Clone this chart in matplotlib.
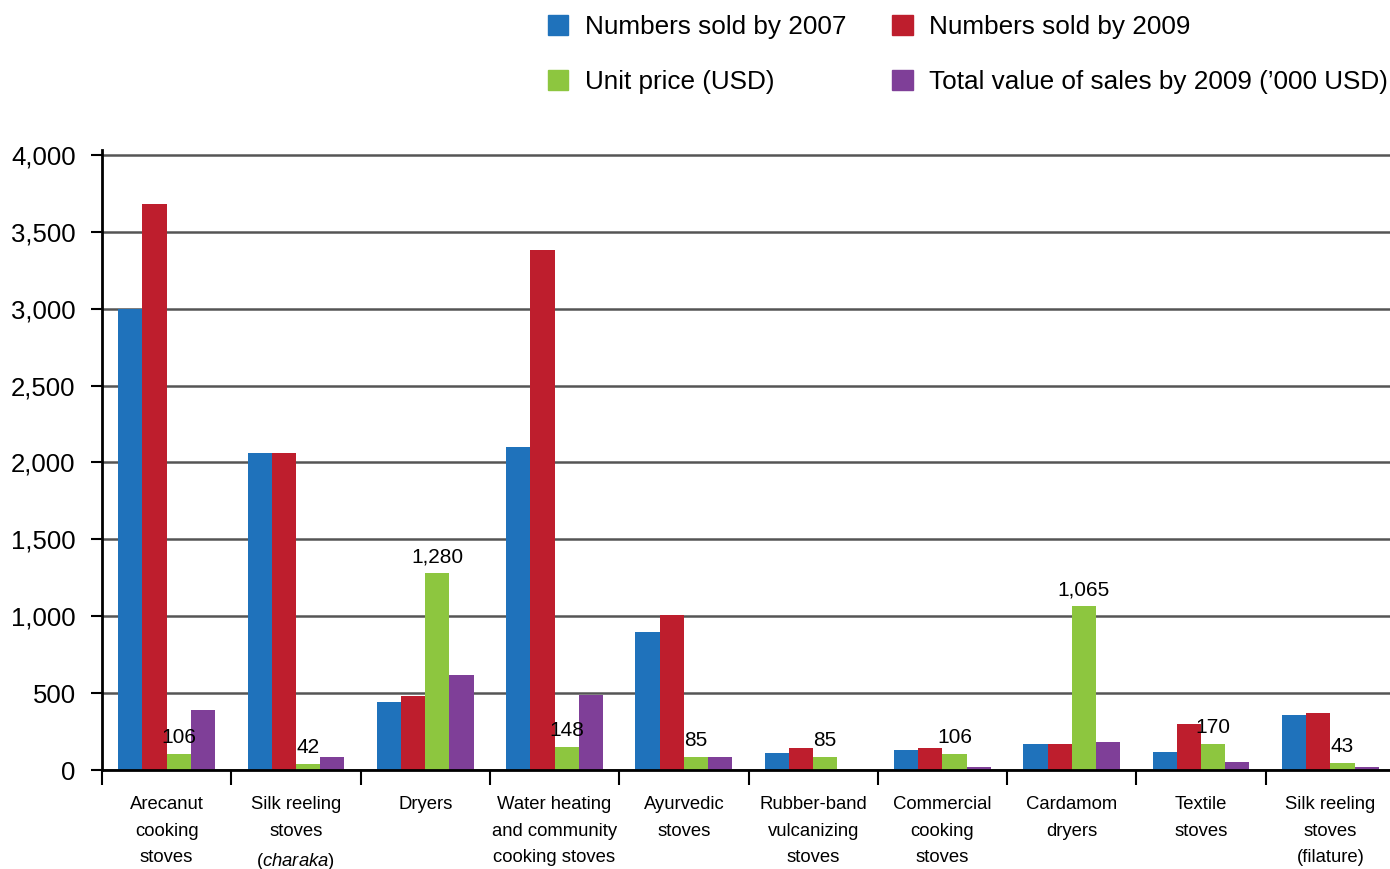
import matplotlib.pyplot as plt
from matplotlib.patches import Patch
import numpy as np

plt.rcParams['font.family'] = ['Liberation Sans', 'DejaVu Sans']
plt.rcParams['mathtext.fontset'] = 'custom'
plt.rcParams['mathtext.rm'] = 'Liberation Sans'
plt.rcParams['mathtext.it'] = 'Liberation Sans:italic'

# Data
categories = [
    'Arecanut\ncooking\nstoves',
    'Silk reeling\nstoves\n($\\mathit{charaka}$)',
    'Dryers',
    'Water heating\nand community\ncooking stoves',
    'Ayurvedic\nstoves',
    'Rubber-band\nvulcanizing\nstoves',
    'Commercial\ncooking\nstoves',
    'Cardamom\ndryers',
    'Textile\nstoves',
    'Silk reeling\nstoves\n(filature)',
]
sold_2007 = [3000, 2060, 440, 2100, 900, 110, 130, 170, 120, 360]
sold_2009 = [3680, 2060, 480, 3380, 1010, 140, 140, 170, 300, 370]
unit_price = [106, 42, 1280, 148, 85, 85, 106, 1065, 170, 43]
total_value = [390, 85, 615, 490, 85, 0, 20, 185, 55, 20]

series = [
    ('Numbers sold by 2007', sold_2007, '#1f72bb'),
    ('Numbers sold by 2009', sold_2009, '#be1e2d'),
    ('Unit price (USD)', unit_price, '#8dc63f'),
    ('Total value of sales by 2009 (\u2019000 USD)', total_value, '#7f3f98'),
]

W, H = 1390, 869
fig = plt.figure(figsize=(W / 100, H / 100), dpi=100)
ymax = 4030
ax = fig.add_axes([102 / W, 99 / H, 1293 / W, ymax * 0.15375 / H])

x = np.arange(len(categories)) + 0.5
bw = 0.187
bars = []
for i, (name, vals, col) in enumerate(series):
    b = ax.bar(x + (i - 1.5) * bw, vals, bw, color=col, label=name, zorder=3)
    bars.append(b)

ax.bar_label(bars[2], labels=[f'{v:,}' for v in unit_price], padding=5,
             fontsize=15, zorder=4)

ax.set_xlim(0, len(categories))
ax.set_ylim(0, ymax)
ax.set_yticks(np.arange(0, 4001, 500))
ax.set_yticklabels([f'{v:,}' for v in range(0, 4001, 500)], fontsize=18.5)
ax.tick_params(axis='y', direction='out', length=8, width=1.5, pad=11)

ax.set_xticks(x)
ax.set_xticklabels(categories, fontsize=13.3, linespacing=1.72)
ax.tick_params(axis='x', length=0, pad=19)
ax.set_xticks(np.arange(0, len(categories) + 1), minor=True)
ax.tick_params(axis='x', which='minor', direction='out', length=11, width=1.5)

ax.yaxis.grid(True, color='#555555', linewidth=1.8, zorder=0)
for s in ['top', 'right']:
    ax.spines[s].set_visible(False)
ax.spines['left'].set_linewidth(2)
ax.spines['bottom'].set_linewidth(2)
ax.spines['left'].set_zorder(5)
ax.spines['bottom'].set_zorder(5)
ax.spines['left'].set_bounds(0, ymax)

# legend fills column by column: reorder so rows read 2007/2009, price/total
order = [0, 2, 1, 3]
handles = [Patch(color=series[k][2]) for k in order]
labels = [series[k][0] for k in order]
fig.legend(handles, labels, loc='upper left', bbox_to_anchor=(548 / W, 1 - 15 / H),
           ncol=2, frameon=False, fontsize=18.8, borderpad=0, borderaxespad=0,
           handlelength=0.78, handleheight=0.78, handletextpad=0.64,
           columnspacing=1.75, labelspacing=1.2)

fig.savefig('out.png', dpi=100)
